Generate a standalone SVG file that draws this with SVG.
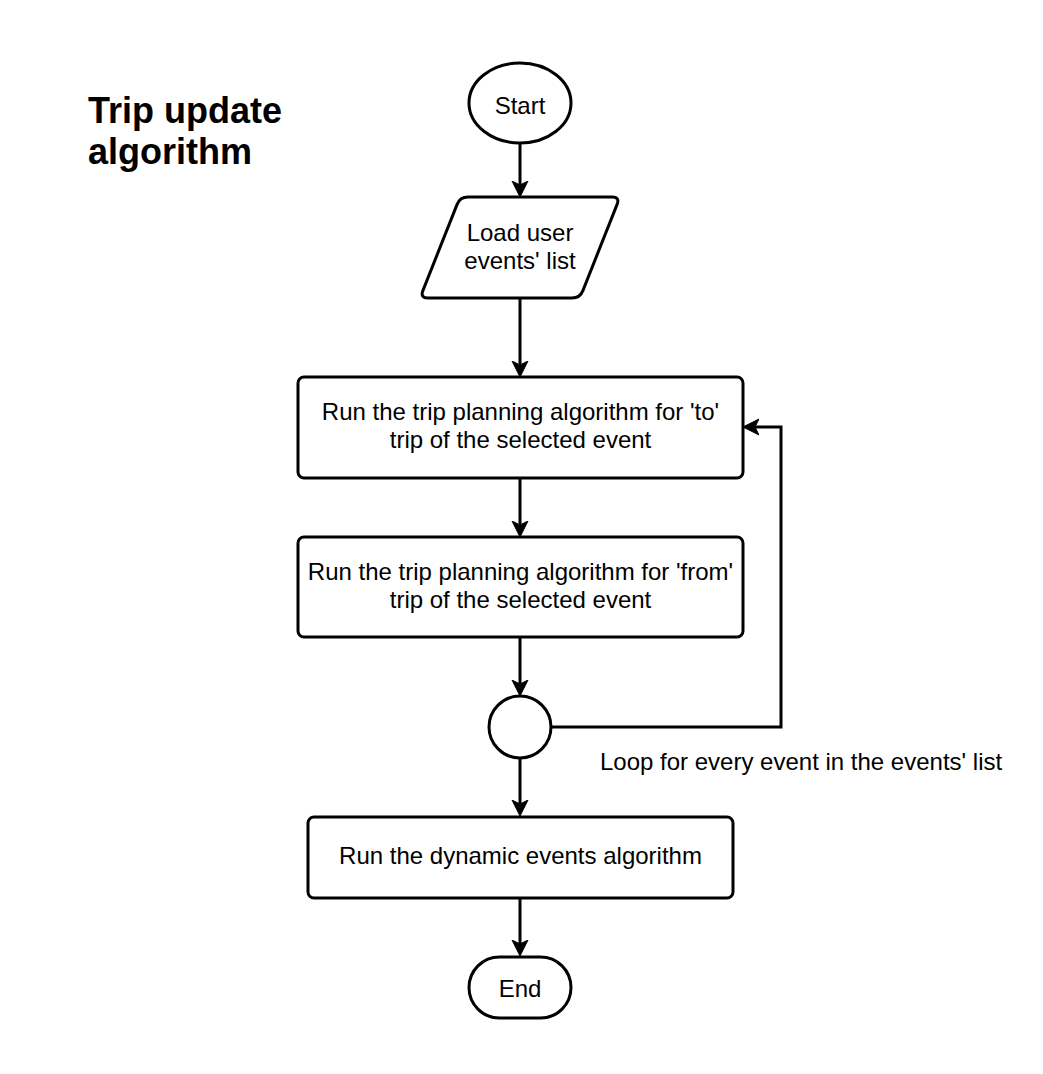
<svg xmlns="http://www.w3.org/2000/svg" width="1043" height="1074" viewBox="0 0 1043 1074">
  <style>
    .shape { fill: #ffffff; stroke: #000000; stroke-width: 3; }
    .edge { fill: none; stroke: #000000; stroke-width: 3; }
    .lbl { font-family: "Liberation Sans", Arial, Helvetica, sans-serif; font-size: 24px; fill: #000000; text-anchor: middle; }
    .title { font-family: "Liberation Sans", Arial, Helvetica, sans-serif; font-size: 36px; font-weight: bold; fill: #000000; }
  </style>
  <defs>
    <marker id="arrow" markerUnits="userSpaceOnUse" markerWidth="18" markerHeight="18" refX="10" refY="8" orient="auto" viewBox="0 0 18 16">
      <path d="M0,0 L16,8 L0,16 L4,8 Z" fill="#000000" stroke="#000000" stroke-width="1" stroke-linejoin="miter"/>
    </marker>
  </defs>
  <rect width="1043" height="1074" fill="#ffffff"/>

  <g id="title">
    <text class="title" x="88" y="123">Trip update</text>
    <text class="title" x="88" y="164">algorithm</text>
  </g>

  <g id="connectors">
    <path class="edge" d="M520,143 L520,191" marker-end="url(#arrow)"/>
    <path class="edge" d="M520,298 L520,371" marker-end="url(#arrow)"/>
    <path class="edge" d="M520,478 L520,531" marker-end="url(#arrow)"/>
    <path class="edge" d="M520,637 L520,690" marker-end="url(#arrow)"/>
    <path class="edge" d="M520,758 L520,810" marker-end="url(#arrow)"/>
    <path class="edge" d="M520,898 L520,950" marker-end="url(#arrow)"/>
    <path class="edge" d="M551,727 L781,727 L781,427 L749,427" marker-end="url(#arrow)"/>
    <text class="lbl" x="600" y="770" style="text-anchor:start">Loop for every event in the events' list</text>
  </g>

  <g id="start">
    <ellipse class="shape" cx="520" cy="103" rx="51" ry="40"/>
    <text class="lbl" x="520" y="114">Start</text>
  </g>

  <g id="load">
    <path class="shape" stroke-linejoin="round" d="M468,197 L612,197 Q620,197 617.1,204.4 L582.9,290.6 Q580,298 572,298 L428,298 Q420,298 422.9,290.6 L457.1,204.4 Q460,197 468,197 Z"/>
    <text class="lbl" x="520" y="241">Load user</text>
    <text class="lbl" x="520" y="269">events' list</text>
  </g>

  <g id="plan-to">
    <rect class="shape" x="298" y="377" width="445" height="101" rx="6"/>
    <text class="lbl" x="520.5" y="420">Run the trip planning algorithm for 'to'</text>
    <text class="lbl" x="520.5" y="448">trip of the selected event</text>
  </g>

  <g id="plan-from">
    <rect class="shape" x="298" y="537" width="445" height="100" rx="6"/>
    <text class="lbl" x="520.5" y="580">Run the trip planning algorithm for 'from'</text>
    <text class="lbl" x="520.5" y="608">trip of the selected event</text>
  </g>

  <g id="loop">
    <circle class="shape" cx="520" cy="727" r="31"/>
  </g>

  <g id="dynamic">
    <rect class="shape" x="308" y="817" width="425" height="81" rx="6"/>
    <text class="lbl" x="520.5" y="864">Run the dynamic events algorithm</text>
  </g>

  <g id="end">
    <rect class="shape" x="469" y="957" width="102" height="61" rx="30.5"/>
    <text class="lbl" x="520" y="997">End</text>
  </g>
</svg>
